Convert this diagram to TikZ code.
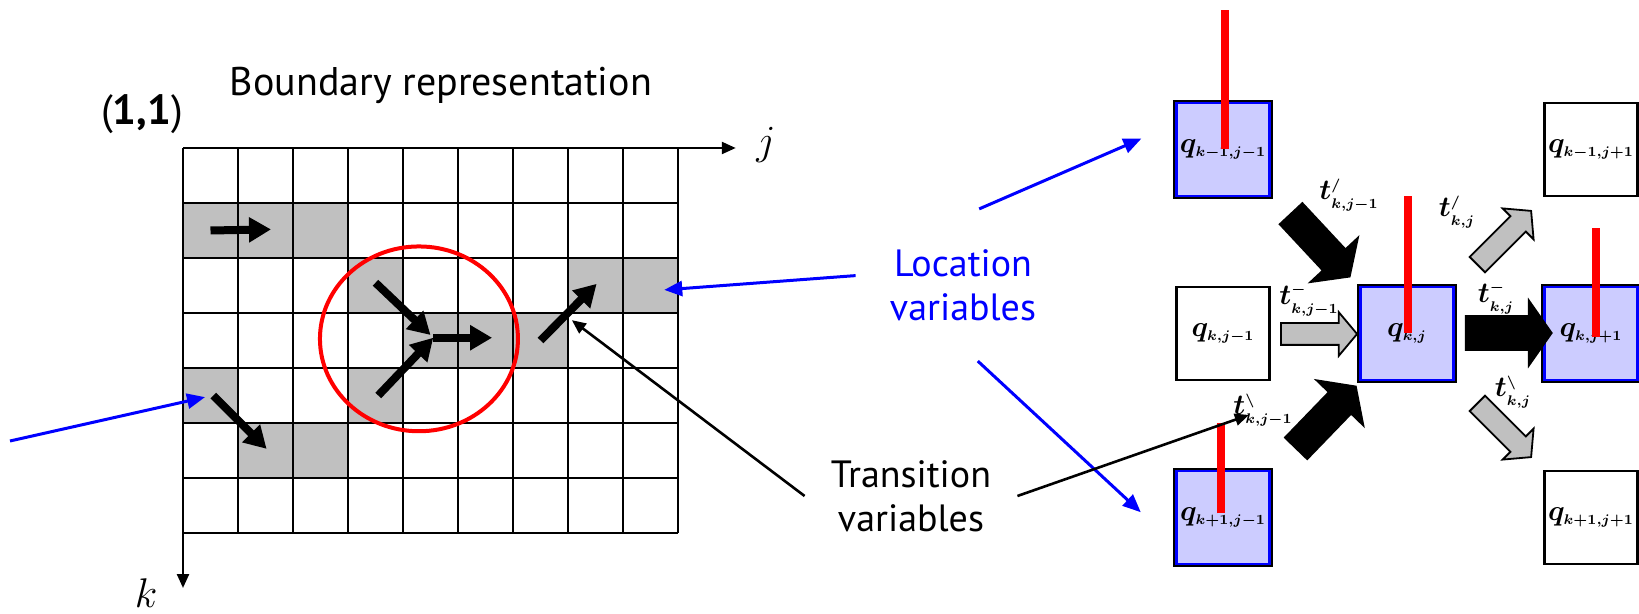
\documentclass[tikz,border=0pt]{standalone}
\usepackage{fontspec}
\setmainfont{PT Sans}
\usetikzlibrary{positioning, shapes.arrows, arrows.meta}

\definecolor{cellgray}{RGB}{192,192,192}
\definecolor{locblue}{RGB}{204,204,255}

\newcommand{\qvar}[1]{$q_{\scriptscriptstyle #1}$}
\newcommand{\tvar}[2]{$t^{\scriptscriptstyle #1}_{\scriptscriptstyle #2}$}

\tikzset{
  mathlabel/.style={inner sep=0pt, font=\fontsize{14}{14}\selectfont\boldmath},
  qbox/.style={draw, line width=1.4pt, minimum size=46.5pt, inner sep=0pt, font=\fontsize{15}{15}\selectfont\boldmath},
  locbox/.style={qbox, fill=locblue, draw=blue, line width=1.4pt, preaction={draw=black, line width=3.2pt}},
  redbar/.style={draw=red, line width=4pt},
  bigarrow/.style={single arrow, fill=black, inner xsep=0pt, inner ysep=8pt, minimum height=44pt, single arrow head extend=9.5pt, single arrow tip angle=110},
  smallarrow/.style={single arrow, draw, fill=cellgray, line width=0.9pt, inner xsep=0pt, inner ysep=5pt, minimum height=38pt, single arrow head extend=5.5pt, single arrow tip angle=100},
  gridline/.style={line width=1.4pt},
  axisline/.style={line width=1.2pt, -{Triangle[width=6pt,length=7pt]}},
  cellarrow/.style={line width=4pt, -{Triangle[width=12pt,length=11pt]}},
  redring/.style={draw=red, line width=2pt},
  locline/.style={blue, line width=1.5pt, -{Triangle[width=7.5pt,length=9pt]}},
  transline/.style={line width=1.3pt, -{Triangle[width=6pt,length=7pt]}},
  textlabel/.style={font=\fontsize{19}{22}\selectfont, align=center},
}

\begin{document}
\begin{tikzpicture}[x=0.5pt, y=0.5pt, node distance=92pt, on grid]
\useasboundingbox (0,0) rectangle (1639,-614);

% boundary grid, one unit = one cell
\begin{scope}[shift={(183,-148)}, x=27.5pt, y=-27.5pt]
  \foreach \c/\r in {0/1,1/1,2/1,3/2,7/2,8/2,4/3,5/3,6/3,0/4,3/4,1/5,2/5}
    \fill[cellgray] (\c,\r) rectangle ++(1,1);
  \foreach \c in {0,...,9} \draw[gridline] (\c,0) -- (\c,7);
  \foreach \r in {0,...,7} \draw[gridline] (0,\r) -- (9,\r);
  \draw[axisline] (9,0) -- (10.05,0);
  \draw[axisline] (0,7) -- (0,8);
  \node[font=\fontsize{22}{22}\selectfont] (jlabel) at (10.6,-0.06) {$j$};
  \node[font=\fontsize{22}{22}\selectfont] (klabel) at (-0.67,8.1) {$k$};
  \draw[cellarrow] (0.5,1.5) -- (1.6,1.48);
  \draw[cellarrow] (3.5,2.45) -- (4.5,3.4);
  \draw[cellarrow] (3.55,4.5) -- (4.55,3.45);
  \draw[cellarrow] (4.55,3.45) -- (5.62,3.45);
  \draw[cellarrow] (6.5,3.5) -- (7.52,2.47);
  \draw[cellarrow] (0.55,4.5) -- (1.52,5.47);
  \draw[redring] (4.29,3.47) ellipse [x radius=1.8, y radius=1.68];
  \coordinate (locend) at (8.75,2.58);
  \coordinate (transend) at (7.07,3.13);
  \coordinate (leftend) at (0.4,4.53);
\end{scope}
\coordinate (leftstart) at (10,-441);

\node[textlabel, font=\fontsize{20}{22}\selectfont, anchor=base] (title) at (441,-96) {Boundary representation};
\node[textlabel, font=\fontsize{21}{22}\selectfont, anchor=base] (origin) at (142,-124.5) {(\textbf{1,1})};
\node[textlabel, text=blue, inner xsep=17pt, inner ysep=20pt] (locvar) at (963,-285) {Location\\variables};
\node[textlabel, inner xsep=13pt] (transvar) at (911,-496) {Transition\\variables};

% location variables
\node[locbox] (q) at (1407,-333.5) {\qvar{k,j}};
\node[qbox] (qw) [left=of q] {\qvar{k,j-1}};
\node[locbox] (qnw) [above=of qw] {\qvar{k-1,j-1}};
\node[locbox] (qsw) [below=of qw] {\qvar{k+1,j-1}};
\node[locbox] (qe) [right=of q] {\qvar{k,j+1}};
\node[qbox] (qne) [above=of qe] {\qvar{k-1,j+1}};
\node[qbox] (qse) [below=of qe] {\qvar{k+1,j+1}};

\draw[redbar] ([xshift=1pt]qnw.center) -- ++(0,139);
\draw[redbar] ([xshift=0.5pt]q.center) -- ++(0,137);
\draw[redbar] ([xshift=2.5pt,yshift=-2pt]qe.center) -- ++(0,109);
\draw[redbar] ([xshift=-1pt,yshift=2pt]qsw.center) -- ++(0,90);

% transition variables
\node[mathlabel] (tnw) at (1349,-195) {\tvar{/}{k,j-1}};
\node[mathlabel] (tw) at (1309,-300) {\tvar{-}{k,j-1}};
\node[mathlabel] (tsw) at (1263,-410) {\tvar{\backslash}{k,j-1}};
\node[mathlabel] (tne) at (1457,-212) {\tvar{/}{k,j}};
\node[mathlabel] (te) at (1496,-298) {\tvar{-}{k,j}};
\node[mathlabel] (tse) at (1513,-392) {\tvar{\backslash}{k,j}};

\node[bigarrow, rotate=-47] (anw) at (1316.5,-241) {};
\node[bigarrow, rotate=46] (asw) at (1322,-421.5) {};
\node[smallarrow] (aw) at (1314.5,-334) {};
\node[bigarrow, inner ysep=8.75pt, single arrow head extend=8.75pt] (ae) at (1502.5,-333) {};
\node[smallarrow, rotate=45] (ane) at (1501,-241) {};
\node[smallarrow, rotate=-45] (ase) at (1501,-427) {};

% pointers
\draw[locline] (locvar.175) -- (locend);
\draw[locline, shorten >=18.4pt] (locvar.78) -- (qnw.152);
\draw[locline, shorten >=23.4pt] (locvar.-79) -- (qsw.-151);
\draw[locline] (leftstart) -- (leftend);
\draw[transline] (transvar.west) -- (transend);
\draw[transline, shorten >=7.5pt] (transvar.east) -- (tsw.center);
\end{tikzpicture}
\end{document}
